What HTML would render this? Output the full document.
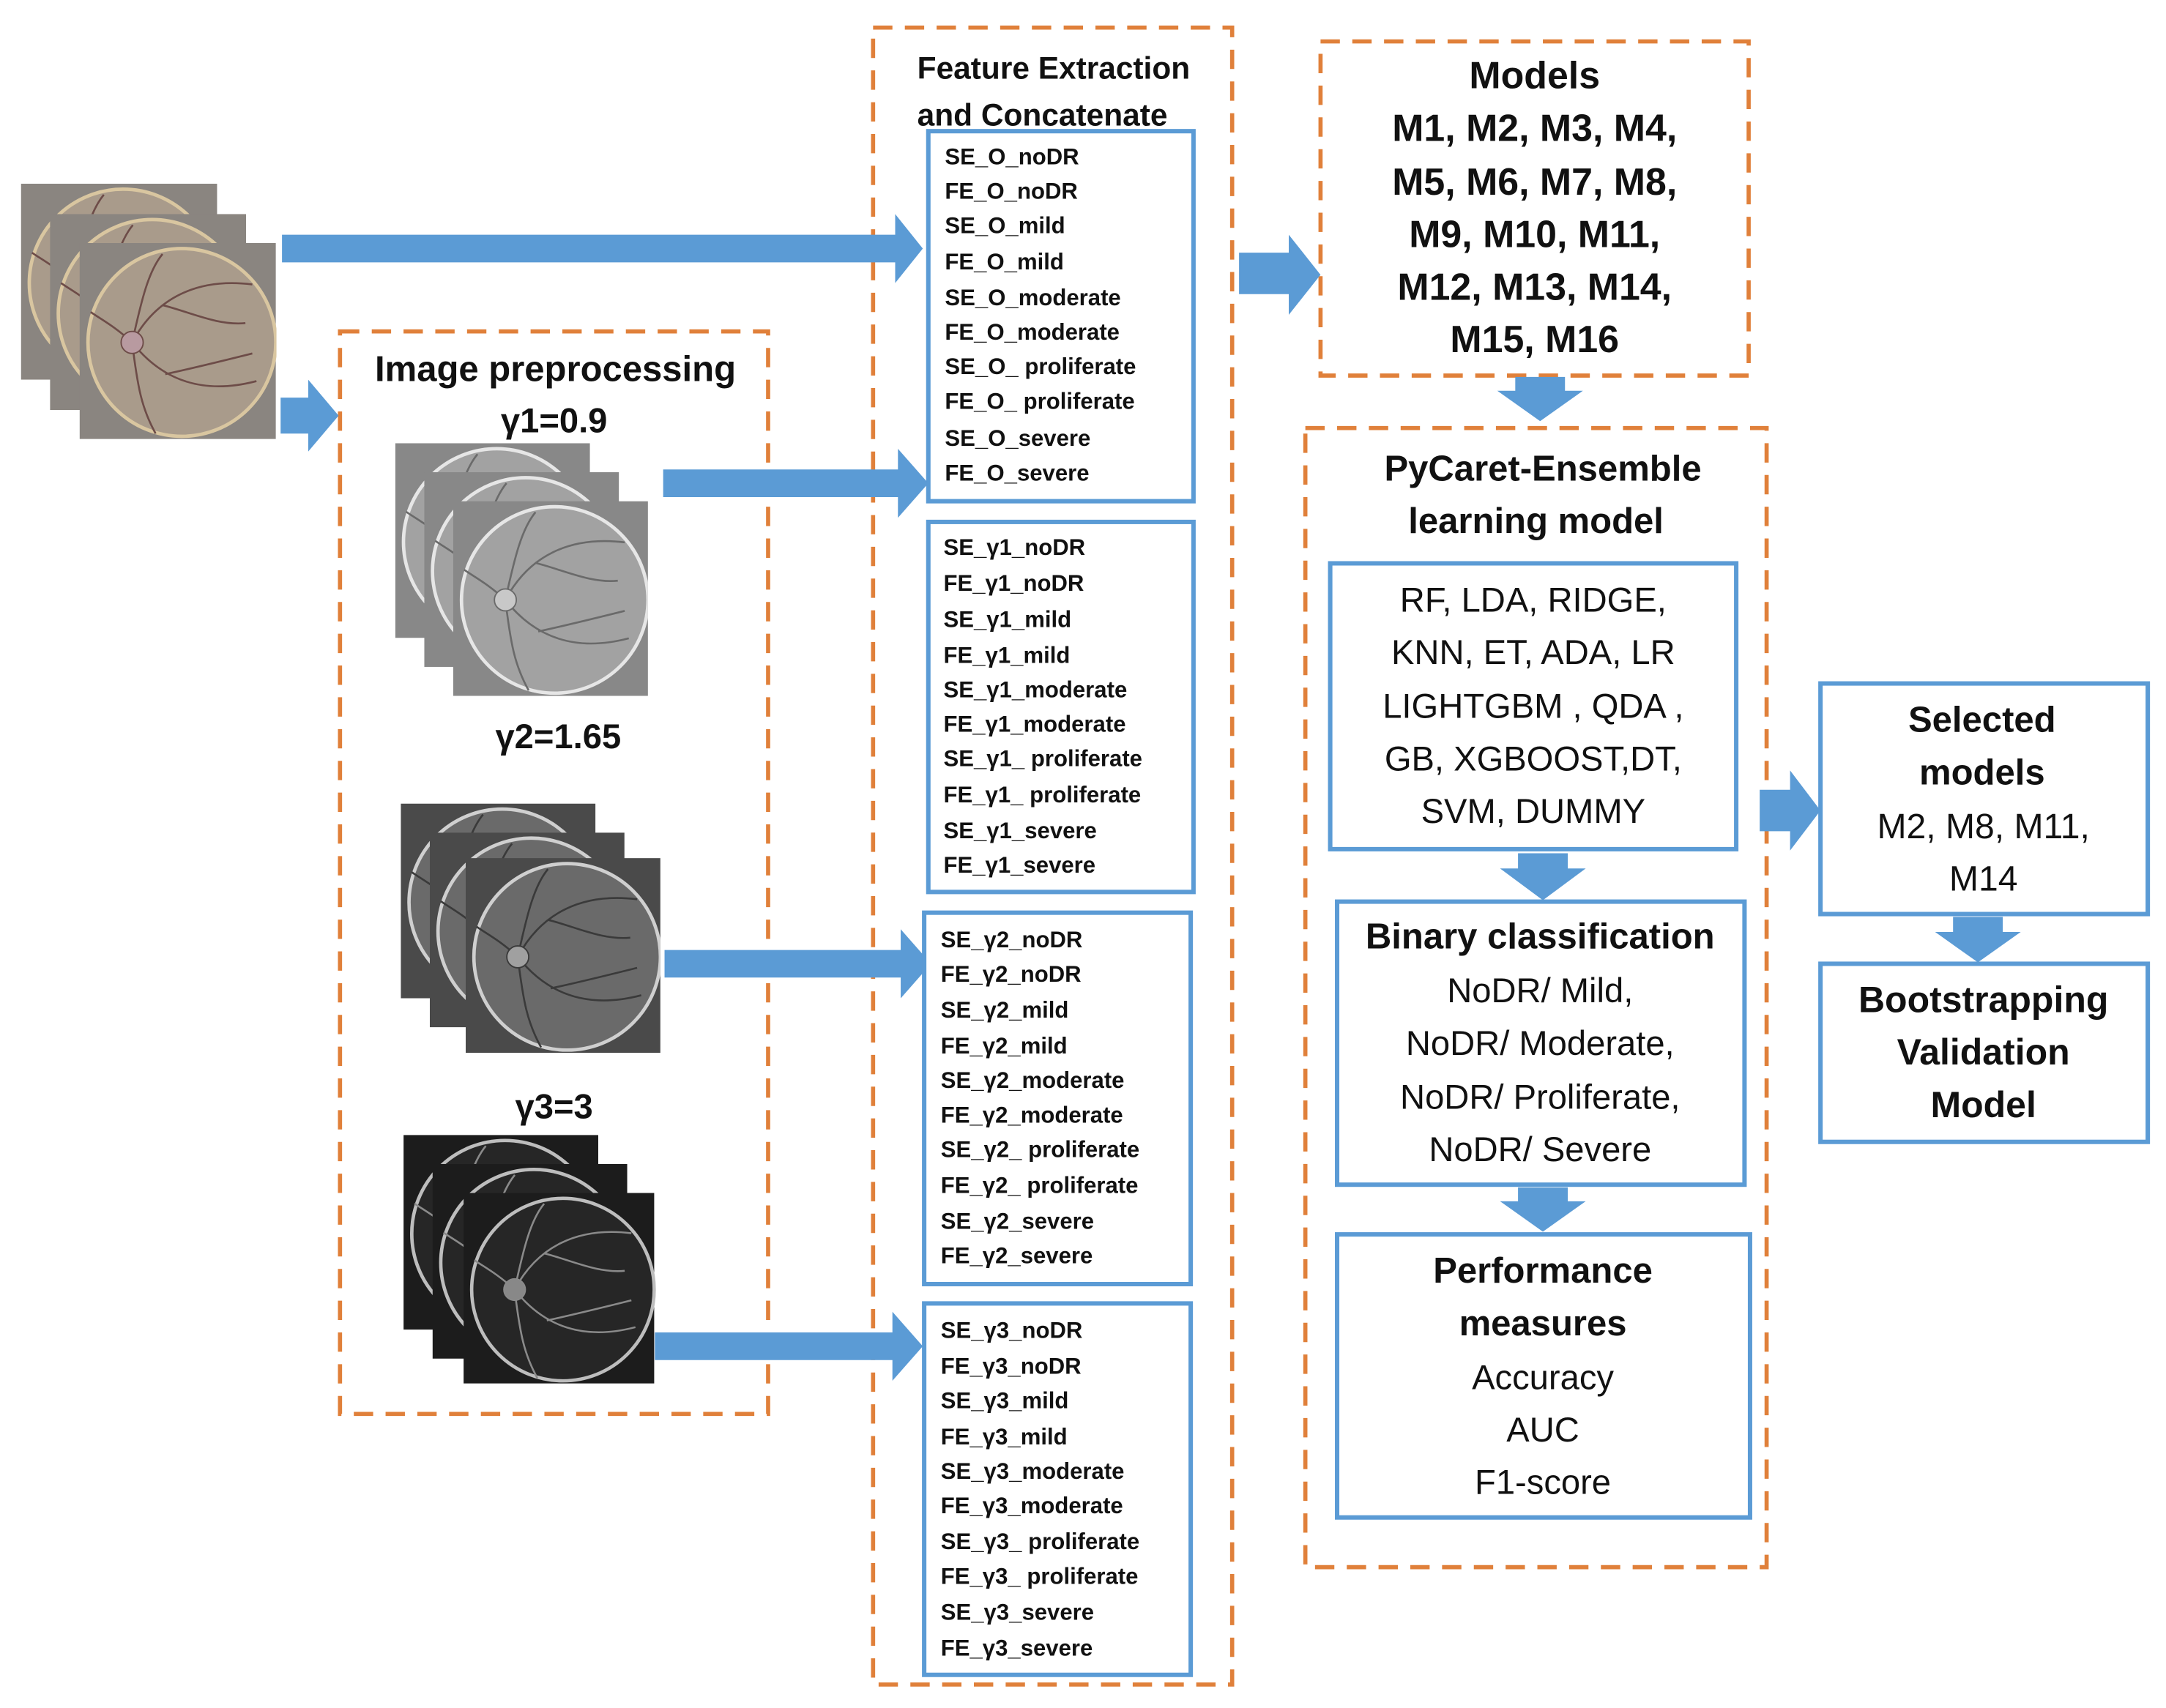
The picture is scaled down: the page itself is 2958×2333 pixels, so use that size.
<!DOCTYPE html>
<html><head><meta charset="utf-8"><style>
html,body{margin:0;padding:0;background:#fff;}
svg{display:block;}
.b{font-family:"Liberation Sans",sans-serif;font-weight:bold;fill:#111;}
.n{font-family:"Liberation Sans",sans-serif;fill:#111;}
.od{fill:none;stroke:#e0803a;stroke-width:3;stroke-dasharray:14 9;}
.bb{fill:#fff;stroke:#5b9bd5;stroke-width:3.2;}
.ar{fill:#5b9bd5;}
.ft{font-family:"Liberation Sans",sans-serif;font-weight:bold;font-size:16.5px;fill:#111;}
</style></head><body>
<svg width="2958" height="2333" viewBox="0 0 1568 1237" xmlns="http://www.w3.org/2000/svg">
<defs>
<symbol id="f" viewBox="0 0 142 142">
<rect x="0" y="0" width="142" height="142" style="fill:var(--bg)"/>
<circle cx="74" cy="72" r="68" style="fill:var(--dk);stroke:var(--rim)" stroke-width="2.5"/>
<g style="stroke:var(--vs)" stroke-width="1.4" fill="none">
<path d="M38 72 C55 40 85 25 125 30"/><path d="M38 72 C60 100 90 110 128 100"/>
<path d="M38 72 C45 40 50 20 60 8"/><path d="M38 72 C42 105 45 120 55 138"/>
<path d="M38 72 C25 60 15 55 8 50"/><path d="M60 45 C80 50 100 60 120 58"/>
<path d="M62 95 C85 90 105 85 125 80"/>
</g>
<circle cx="38" cy="72" r="8" style="fill:var(--od);stroke:var(--vs)" stroke-width="1"/>
</symbol>
</defs>

<g style="--bg:#8a8580;--dk:#a99b8b;--rim:#d9c6a0;--vs:#6d4c48;--od:#b89aa0">
<use href="#f" x="15" y="133" width="142" height="142"/>
<use href="#f" x="36" y="155" width="142" height="142"/>
<use href="#f" x="57" y="176" width="143" height="142"/>
</g>
<g style="--bg:#888;--dk:#a2a2a2;--rim:#e6e6e6;--vs:#6a6a6a;--od:#c8c8c8">
<use href="#f" x="286" y="321" width="141" height="141"/>
<use href="#f" x="307" y="342" width="141" height="141"/>
<use href="#f" x="328" y="363" width="141" height="141"/>
</g>
<g style="--bg:#4a4a4a;--dk:#6a6a6a;--rim:#cfcfcf;--vs:#3a3a3a;--od:#a0a0a0">
<use href="#f" x="290" y="582" width="141" height="141"/>
<use href="#f" x="311" y="603" width="141" height="141"/>
<use href="#f" x="337" y="621" width="141" height="142"/>
</g>
<g style="--bg:#1c1c1c;--dk:#262626;--rim:#bdbdbd;--vs:#8a8a8a;--od:#888">
<use href="#f" x="292" y="822" width="141" height="141"/>
<use href="#f" x="313" y="843" width="141" height="141"/>
<use href="#f" x="334" y="864" width="141" height="138"/>
</g>

<rect class="od" x="246" y="240" width="310" height="784"/>
<rect class="od" x="632" y="20" width="260" height="1200"/>
<rect class="od" x="956" y="30" width="310" height="242"/>
<rect class="od" x="945" y="310" width="334" height="825"/>

<polygon class="ar" points="204,170 648,170 648,155 668,180 648,205 648,190 204,190"/>
<polygon class="ar" points="203,288 223,288 223,275 245,301 223,327 223,314 203,314"/>
<polygon class="ar" points="480,340 650,340 650,325 672,350 650,375 650,360 480,360"/>
<polygon class="ar" points="481,688 652,688 652,673 674,698 652,723 652,708 481,708"/>
<polygon class="ar" points="474,965 646,965 646,950 668,975 646,1000 646,985 474,985"/>
<polygon class="ar" points="897,183 933,183 933,170 956,199 933,228 933,213 897,213"/>
<polygon class="ar" points="1274,572 1296,572 1296,558 1318,587 1296,616 1296,602 1274,602"/>
<polygon class="ar" points="1097,273 1133,273 1133,283 1146,283 1115,305 1084,283 1097,283"/>
<polygon class="ar" points="1099,618 1135,618 1135,629 1148,629 1117,652 1086,629 1099,629"/>
<polygon class="ar" points="1099,860 1135,860 1135,870 1148,870 1117,892 1086,870 1099,870"/>
<polygon class="ar" points="1414,664 1450,664 1450,675 1463,675 1432,697 1401,675 1414,675"/>

<text class="b" x="402" y="276" font-size="26" text-anchor="middle">Image preprocessing</text>
<text class="b" x="401" y="313" font-size="25" text-anchor="middle">γ1=0.9</text>
<text class="b" x="404" y="542" font-size="25" text-anchor="middle">γ2=1.65</text>
<text class="b" x="401" y="810" font-size="25" text-anchor="middle">γ3=3</text>

<text class="b" x="664" y="57" font-size="22.5">Feature Extraction</text>
<text class="b" x="664" y="91" font-size="22.5">and Concatenate</text>

<rect class="bb" x="672" y="95" width="192" height="268"/>
<rect class="bb" x="672" y="378" width="192" height="268"/>
<rect class="bb" x="669" y="661" width="193" height="269"/>
<rect class="bb" x="669" y="944" width="193" height="269"/>

<g class="ft">
<text x="684" y="119">SE_O_noDR</text><text x="684" y="144">FE_O_noDR</text>
<text x="684" y="169">SE_O_mild</text><text x="684" y="195">FE_O_mild</text>
<text x="684" y="221">SE_O_moderate</text><text x="684" y="246">FE_O_moderate</text>
<text x="684" y="271">SE_O_ proliferate</text><text x="684" y="296">FE_O_ proliferate</text>
<text x="684" y="323">SE_O_severe</text><text x="684" y="348">FE_O_severe</text>

<text x="683" y="402">SE_γ1_noDR</text><text x="683" y="428">FE_γ1_noDR</text>
<text x="683" y="454">SE_γ1_mild</text><text x="683" y="480">FE_γ1_mild</text>
<text x="683" y="505">SE_γ1_moderate</text><text x="683" y="530">FE_γ1_moderate</text>
<text x="683" y="555">SE_γ1_ proliferate</text><text x="683" y="581">FE_γ1_ proliferate</text>
<text x="683" y="607">SE_γ1_severe</text><text x="683" y="632">FE_γ1_severe</text>

<text x="681" y="686">SE_γ2_noDR</text><text x="681" y="711">FE_γ2_noDR</text>
<text x="681" y="737">SE_γ2_mild</text><text x="681" y="763">FE_γ2_mild</text>
<text x="681" y="788">SE_γ2_moderate</text><text x="681" y="813">FE_γ2_moderate</text>
<text x="681" y="838">SE_γ2_ proliferate</text><text x="681" y="864">FE_γ2_ proliferate</text>
<text x="681" y="890">SE_γ2_severe</text><text x="681" y="915">FE_γ2_severe</text>

<text x="681" y="969">SE_γ3_noDR</text><text x="681" y="995">FE_γ3_noDR</text>
<text x="681" y="1020">SE_γ3_mild</text><text x="681" y="1046">FE_γ3_mild</text>
<text x="681" y="1071">SE_γ3_moderate</text><text x="681" y="1096">FE_γ3_moderate</text>
<text x="681" y="1122">SE_γ3_ proliferate</text><text x="681" y="1147">FE_γ3_ proliferate</text>
<text x="681" y="1173">SE_γ3_severe</text><text x="681" y="1199">FE_γ3_severe</text>
</g>

<g class="b" font-size="27.5" text-anchor="middle">
<text x="1111" y="64">Models</text>
<text x="1111" y="102">M1, M2, M3, M4,</text>
<text x="1111" y="141">M5, M6, M7, M8,</text>
<text x="1111" y="179">M9, M10, M11,</text>
<text x="1111" y="217">M12, M13, M14,</text>
<text x="1111" y="255">M15, M16</text>
</g>
<g class="b" font-size="26" text-anchor="middle">
<text x="1117" y="348">PyCaret-Ensemble</text>
<text x="1112" y="386">learning model</text>
</g>

<rect class="bb" x="963" y="408" width="294" height="207"/>
<g class="n" font-size="25" text-anchor="middle">
<text x="1110" y="443">RF, LDA, RIDGE,</text>
<text x="1110" y="481">KNN, ET, ADA, LR</text>
<text x="1110" y="520">LIGHTGBM , QDA ,</text>
<text x="1110" y="558">GB,  XGBOOST,DT,</text>
<text x="1110" y="596">SVM, DUMMY</text>
</g>

<rect class="bb" x="968" y="653" width="295" height="205"/>
<text class="b" x="1115" y="687" font-size="26" text-anchor="middle">Binary classification</text>
<g class="n" font-size="25" text-anchor="middle">
<text x="1115" y="726">NoDR/ Mild,</text>
<text x="1115" y="764">NoDR/ Moderate,</text>
<text x="1115" y="803">NoDR/ Proliferate,</text>
<text x="1115" y="841">NoDR/ Severe</text>
</g>

<rect class="bb" x="968" y="894" width="299" height="205"/>
<text class="b" x="1117" y="929" font-size="26" text-anchor="middle">Performance</text>
<text class="b" x="1117" y="967" font-size="26" text-anchor="middle">measures</text>
<g class="n" font-size="25" text-anchor="middle">
<text x="1117" y="1006">Accuracy</text>
<text x="1117" y="1044">AUC</text>
<text x="1117" y="1082">F1-score</text>
</g>

<rect class="bb" x="1318" y="495" width="237" height="167"/>
<text class="b" x="1435" y="530" font-size="26" text-anchor="middle">Selected</text>
<text class="b" x="1435" y="568" font-size="26" text-anchor="middle">models</text>
<text class="n" x="1436" y="607" font-size="25.5" text-anchor="middle">M2, M8, M11,</text>
<text class="n" x="1436" y="645" font-size="25.5" text-anchor="middle">M14</text>

<rect class="bb" x="1318" y="698" width="237" height="129"/>
<text class="b" x="1436" y="733" font-size="26.5" text-anchor="middle">Bootstrapping</text>
<text class="b" x="1436" y="771" font-size="26.5" text-anchor="middle">Validation</text>
<text class="b" x="1436" y="809" font-size="26.5" text-anchor="middle">Model</text>
</svg>
</body></html>
